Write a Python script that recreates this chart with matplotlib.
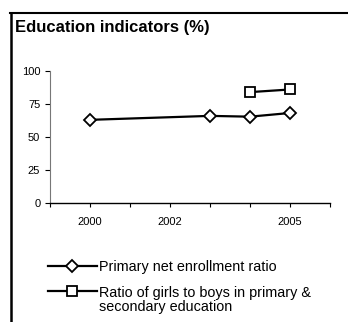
import matplotlib.pyplot as plt
from matplotlib.lines import Line2D

plt.rcParams['font.family'] = ['Liberation Sans', 'DejaVu Sans']

# data
years_enroll = [2000, 2003, 2004, 2005]
enroll = [63, 66, 65.4, 68.2]
years_ratio = [2004, 2005]
ratio = [84, 86]

tick_years = list(range(1999, 2007))
shown_years = [2000, 2002, 2005]
y_ticks = [0, 25, 50, 75, 100]

W, H = 348, 322
fig = plt.figure(figsize=(W / 100, H / 100), dpi=100)
ax = fig.add_axes([50 / W, (H - 203) / H, 280 / W, 132 / H])

l1, = ax.plot(years_enroll, enroll, color="black", lw=1.6, marker="D",
              ms=6.5, mfc="white", mec="black", mew=1.3,
              label="Primary net enrollment ratio")
l2, = ax.plot(years_ratio, ratio, color="black", lw=1.6, marker="s",
              ms=7.5, mfc="white", mec="black", mew=1.3,
              label="Ratio of girls to boys in primary &")

ax.set_xlim(1999, 2006)
ax.set_ylim(0, 100)
ax.set_xticks(tick_years)
ax.set_xticklabels([str(y) if y in shown_years else "" for y in tick_years])
ax.set_yticks(y_ticks)
ax.tick_params(axis="x", direction="out", length=3, width=0.8, pad=7, labelsize=8)
ax.tick_params(axis="y", direction="out", length=3.5, width=0.8, pad=3.5, labelsize=8)
for s in ["top", "right"]:
    ax.spines[s].set_visible(False)
ax.spines["left"].set_color("#777777")
ax.spines["left"].set_linewidth(0.8)
ax.spines["bottom"].set_linewidth(1.0)

fig.text(15 / W, (H - 32) / H, "Education indicators (%)", fontsize=12,
         fontweight="bold", va="baseline", ha="left")

fig.legend(handles=[l1, l2], loc="upper left",
           bbox_to_anchor=(48 / W, (H - 260) / H), frameon=False,
           fontsize=10.35, handlelength=3.4, handletextpad=0.15,
           labelspacing=0.8, borderpad=0, borderaxespad=0)
fig.text(99 / W, (H - 311) / H, "secondary education", fontsize=10.35,
         va="baseline", ha="left")

# frame lines of the panel
fig.add_artist(Line2D([10 / W, 1], [(H - 13) / H] * 2, color="black", lw=1.5))
fig.add_artist(Line2D([10.5 / W] * 2, [(H - 13) / H, 0], color="black", lw=1.8))

fig.savefig("out.png", dpi=100)
